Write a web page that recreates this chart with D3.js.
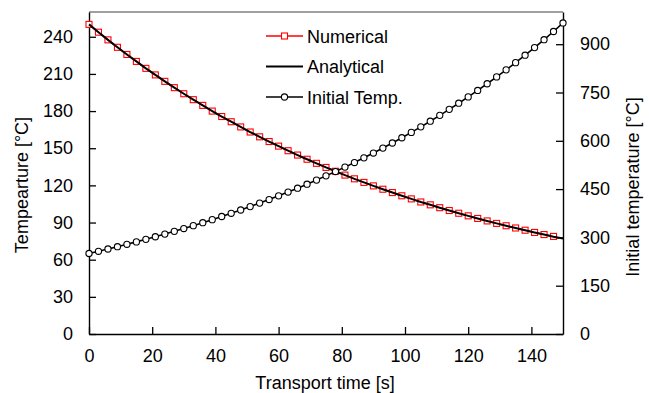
<!DOCTYPE html>
<html>
<head>
<meta charset="utf-8">
<script src="https://cdn.jsdelivr.net/npm/d3@7"></script>
<style>
  body { margin: 0; background: #fff; }
  svg text { font-family: "Liberation Sans", Arial, sans-serif; fill: #000; }
</style>
</head>
<body>
<div id="chart"></div>
<script>
// transport time [s], one sample every 3 s
const time = [0,3,6,9,12,15,18,21,24,27,30,33,36,39,42,45,48,51,54,57,60,63,66,69,72,75,78,81,84,87,90,93,96,99,102,105,108,111,114,117,120,123,126,129,132,135,138,141,144,147,150];

// temperature [°C], left axis
const numerical = [250.0,243.7,237.5,231.5,225.7,220.1,214.5,209.2,204.0,198.9,194.0,189.2,184.6,180.0,175.6,171.4,167.2,163.1,159.2,155.4,151.7,148.0,144.5,141.1,137.8,134.5,131.4,128.3,125.3,122.4,119.6,116.9,114.2,111.6,109.1,106.6,104.3,102.0,99.7,97.5,95.4,93.3,91.3,89.3,87.4,85.6,83.8,82.0,80.3,78.8];
const analytical = [250.0,243.7,237.5,231.5,225.7,220.1,214.5,209.2,204.0,198.9,194.0,189.2,184.6,180.0,175.6,171.4,167.2,163.1,159.2,155.4,151.7,148.0,144.5,141.1,137.8,134.5,131.4,128.3,125.3,122.4,119.6,116.9,114.2,111.6,109.1,106.6,104.3,102.0,99.7,97.5,95.4,93.3,91.3,89.3,87.4,85.6,83.8,82.0,80.3,78.6,77.1];

// initial temperature [°C], right axis
const initialTemp = [250.0,256.8,263.9,271.1,278.5,286.1,294.0,302.0,310.3,318.8,327.5,336.5,345.7,355.1,364.9,374.9,385.1,395.7,406.5,417.6,429.0,440.8,452.8,465.2,478.0,491.1,504.5,518.3,532.5,547.1,562.0,577.4,593.2,609.5,626.1,643.3,660.9,679.0,697.6,716.7,736.3,756.4,777.1,798.4,820.3,842.7,865.8,889.5,914.0,939.5,966.0];

const xTicks = [0,20,40,60,80,100,120,140];
const yTicks = [0,30,60,90,120,150,180,210,240];
const y2Ticks = [0,150,300,450,600,750,900];

const width = 649, height = 393;
const margin = {top: 12, right: 86, bottom: 59, left: 89};

const svg = d3.select('#chart').append('svg')
  .attr('width', width).attr('height', height);

const x = d3.scaleLinear([0, 150], [margin.left, width - margin.right]);
const y = d3.scaleLinear([0, 260], [height - margin.bottom, margin.top]);
const y2 = d3.scaleLinear([0, 1000], [height - margin.bottom, margin.top]);

const fontSize = 18;

// top frame line
svg.append('line')
  .attr('x1', x(0)).attr('x2', x(150))
  .attr('y1', margin.top).attr('y2', margin.top)
  .attr('stroke', '#808080').attr('stroke-width', 1.3);

function styleAxis(g){
  g.select('.domain').attr('stroke', '#000').attr('stroke-width', 1.4);
  g.selectAll('.tick line').attr('stroke', '#000').attr('stroke-width', 1.3);
  g.selectAll('.tick text').style('font-size', fontSize + 'px');
}

svg.append('g')
  .attr('transform', `translate(0,${height - margin.bottom})`)
  .call(d3.axisBottom(x).tickValues(xTicks).tickSizeInner(-7).tickSizeOuter(0).tickPadding(15))
  .call(styleAxis);

svg.append('g')
  .attr('transform', `translate(${margin.left},0)`)
  .call(d3.axisLeft(y).tickValues(yTicks).tickSizeInner(-7).tickSizeOuter(0).tickPadding(16))
  .call(styleAxis);

svg.append('g')
  .attr('transform', `translate(${width - margin.right},0)`)
  .call(d3.axisRight(y2).tickValues(y2Ticks).tickSizeInner(-7).tickSizeOuter(0).tickPadding(17))
  .call(styleAxis);

// axis titles
svg.append('text')
  .attr('x', 325).attr('y', 389)
  .attr('text-anchor', 'middle').style('font-size', fontSize + 'px')
  .text('Transport time [s]');

svg.append('text')
  .attr('transform', `translate(28,185)rotate(-90)`)
  .attr('text-anchor', 'middle').style('font-size', fontSize + 'px')
  .text('Tempearture [°C]');

svg.append('text')
  .attr('transform', `translate(639,187)rotate(-90)`)
  .attr('text-anchor', 'middle').style('font-size', fontSize + 'px')
  .text('Initial temperature [°C]');

// series
const numData = numerical.map((v, i) => [time[i], v]);
const anaData = analytical.map((v, i) => [time[i], v]);
const iniData = initialTemp.map((v, i) => [time[i], v]);

const lineL = d3.line().x(d => x(d[0])).y(d => y(d[1]));
const lineR = d3.line().x(d => x(d[0])).y(d => y2(d[1]));

const plot = svg.append('g');

plot.append('path').datum(numData)
  .attr('d', lineL).attr('fill', 'none')
  .attr('stroke', '#ff0000').attr('stroke-width', 1.5);

plot.selectAll('rect.num').data(numData).join('rect')
  .classed('num', true)
  .attr('x', d => x(d[0]) - 3).attr('y', d => y(d[1]) - 3)
  .attr('width', 6).attr('height', 6)
  .attr('fill', '#fff').attr('stroke', '#ff0000').attr('stroke-width', 1.1);

plot.append('path').datum(anaData)
  .attr('d', lineL).attr('fill', 'none')
  .attr('stroke', '#000').attr('stroke-width', 2);

plot.append('path').datum(iniData)
  .attr('d', lineR).attr('fill', 'none')
  .attr('stroke', '#000').attr('stroke-width', 1.6);

plot.selectAll('circle.ini').data(iniData).join('circle')
  .classed('ini', true)
  .attr('cx', d => x(d[0])).attr('cy', d => y2(d[1]))
  .attr('r', 3.1)
  .attr('fill', '#fff').attr('stroke', '#000').attr('stroke-width', 1.1);

// legend
const legendItems = [
  {name: 'Numerical', color: '#ff0000', marker: 'square'},
  {name: 'Analytical', color: '#000', marker: 'none'},
  {name: 'Initial Temp.', color: '#000', marker: 'circle'}
];

const legend = svg.append('g').attr('transform', 'translate(266,36)');
legendItems.forEach((item, i) => {
  const g = legend.append('g').attr('transform', `translate(0,${i * 30.5})`);
  g.append('line').attr('x1', 0).attr('x2', 37).attr('y1', 0).attr('y2', 0)
    .attr('stroke', item.color).attr('stroke-width', item.marker === 'none' ? 2 : 1.6);
  if (item.marker === 'square') {
    g.append('rect').attr('x', 15.5).attr('y', -3).attr('width', 6).attr('height', 6)
      .attr('fill', '#fff').attr('stroke', item.color).attr('stroke-width', 1.1);
  } else if (item.marker === 'circle') {
    g.append('circle').attr('cx', 18.5).attr('cy', 0).attr('r', 3.1)
      .attr('fill', '#fff').attr('stroke', item.color).attr('stroke-width', 1.1);
  }
  g.append('text').attr('x', 41).attr('y', 6.5)
    .style('font-size', fontSize + 'px').text(item.name);
});
</script>
</body>
</html>
